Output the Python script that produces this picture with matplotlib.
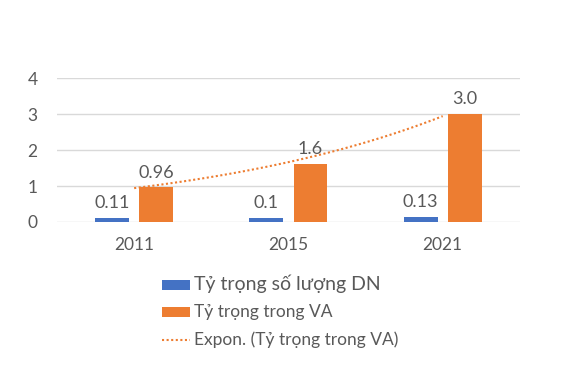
import numpy as np
import matplotlib
matplotlib.use("Agg")
import matplotlib.pyplot as plt

plt.rcParams['font.family'] = ['Lato', 'Open Sans', 'DejaVu Sans']

years = ['2011', '2015', '2021']
share_count = [0.11, 0.1, 0.13]
share_va = [0.96, 1.6, 3.0]
count_labels = ['0.11', '0.1', '0.13']
va_labels = ['0.96', '1.6', '3.0']

blue = '#4472C4'
orange = '#ED7D31'
txt = '#595959'

fig = plt.figure(figsize=(5.7, 3.7), dpi=100)
ax = fig.add_axes([0.1, 0.4, 0.812, 0.389])

x = np.arange(len(years))
w = 0.22
b1 = ax.bar(x - 0.143, share_count, w, color=blue, label='Tỷ trọng số lượng DN', zorder=3)
b2 = ax.bar(x + 0.143, share_va, w, color=orange, label='Tỷ trọng trong VA', zorder=3)

for rect, lab in zip(b1, count_labels):
    ax.annotate(lab, (rect.get_x() + rect.get_width() / 2, rect.get_height()),
                xytext=(0, 5), textcoords='offset points', ha='center', va='bottom',
                fontsize=13, color=txt)
for rect, lab in zip(b2, va_labels):
    ax.annotate(lab, (rect.get_x() + rect.get_width() / 2, rect.get_height()),
                xytext=(0, 5), textcoords='offset points', ha='center', va='bottom',
                fontsize=13, color=txt)

# exponential trendline (Excel style) fitted on category index 1..n
k = np.arange(1, len(share_va) + 1)
slope, icpt = np.polyfit(k, np.log(share_va), 1)
xs = np.linspace(1, len(share_va), 100)
trend, = ax.plot(xs - 1, np.exp(icpt + slope * xs), linestyle=(0, (1, 1.2)),
                 color=orange, lw=1.5, label='Expon. (Tỷ trọng trong VA)', zorder=4)

ax.set_xlim(-0.5, 2.5)
ax.set_ylim(0, 4)
ax.set_yticks([0, 1, 2, 3, 4])
ax.set_xticks(x)
ax.set_xticklabels(years)
ax.tick_params(axis='both', length=0, labelsize=12.5, colors=txt)
ax.tick_params(axis='x', pad=11)
ax.tick_params(axis='y', pad=14)
ax.grid(axis='y', color='#D9D9D9', lw=1, zorder=0)
for s in ax.spines.values():
    s.set_visible(False)

leg = fig.legend(handles=[b1, b2, trend], loc='upper left',
                 bbox_to_anchor=(0.285, 0.258), frameon=False,
                 handlelength=2.0, handletextpad=0.25, labelspacing=0.8,
                 borderaxespad=0, borderpad=0)
sizes = [14, 12.5, 12.5]
for t, s in zip(leg.get_texts(), sizes):
    t.set_fontsize(s)
    t.set_color(txt)

fig.savefig('out.png', dpi=100)
